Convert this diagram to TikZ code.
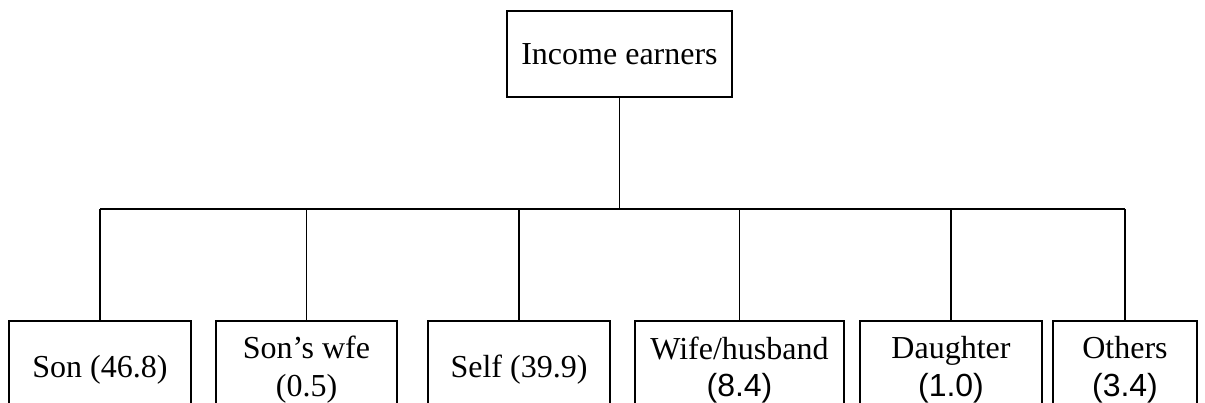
\documentclass[tikz,border=0pt]{standalone}
\usepackage{fontspec}
\setmainfont{Liberation Serif}
\newfontfamily\arialfont{Liberation Sans}

\begin{document}
\begin{tikzpicture}[x=0.375pt, y=-0.375pt,
  box/.style={draw, line width=0.7pt, align=center, inner sep=0pt,
    font=\fontsize{12}{14.2}\selectfont},
  topbox/.style={box, minimum width=225*0.375pt, minimum height=86*0.375pt},
  kidbox/.style={box, minimum width=#1*0.375pt, minimum height=98*0.375pt},
  link/.style={line width=0.7pt},
  bar/.style={line width=0.9pt}]

% === Frame ===
\useasboundingbox (0,0) rectangle (1205,403);
\clip (0,0) rectangle (1205,403);

% === Top box ===
\node[topbox] (earn) at (619.5,54) {Income earners};

% === Bottom boxes (cut off at the lower edge) ===
\node[kidbox=182] (son)    at (100,370)   {Son (46.8)};
\node[kidbox=181] (wfe)    at (306.5,370) {Son’s wfe\\(0.5)};
\node[kidbox=182] (self)   at (519,370)   {Self (39.9)};
\node[kidbox=209] (spouse) at (739.5,370) {Wife/husband\\{\arialfont(8.4)}};
\node[kidbox=182] (dau)    at (951,370)   {Daughter\\{\arialfont(1.0)}};
\node[kidbox=144] (oth)    at (1125,370)  {Others\\{\arialfont(3.4)}};

% === Connectors ===
\coordinate (bus) at (0,209);
\draw[link] (earn.south) -- (earn.south |- bus);
\draw[bar] (son.north |- bus) -- (oth.north |- bus);
\foreach \c in {son,wfe,self,spouse,dau,oth}{
  \draw[link] (\c.north) -- (\c.north |- bus);
}

\end{tikzpicture}
\end{document}
